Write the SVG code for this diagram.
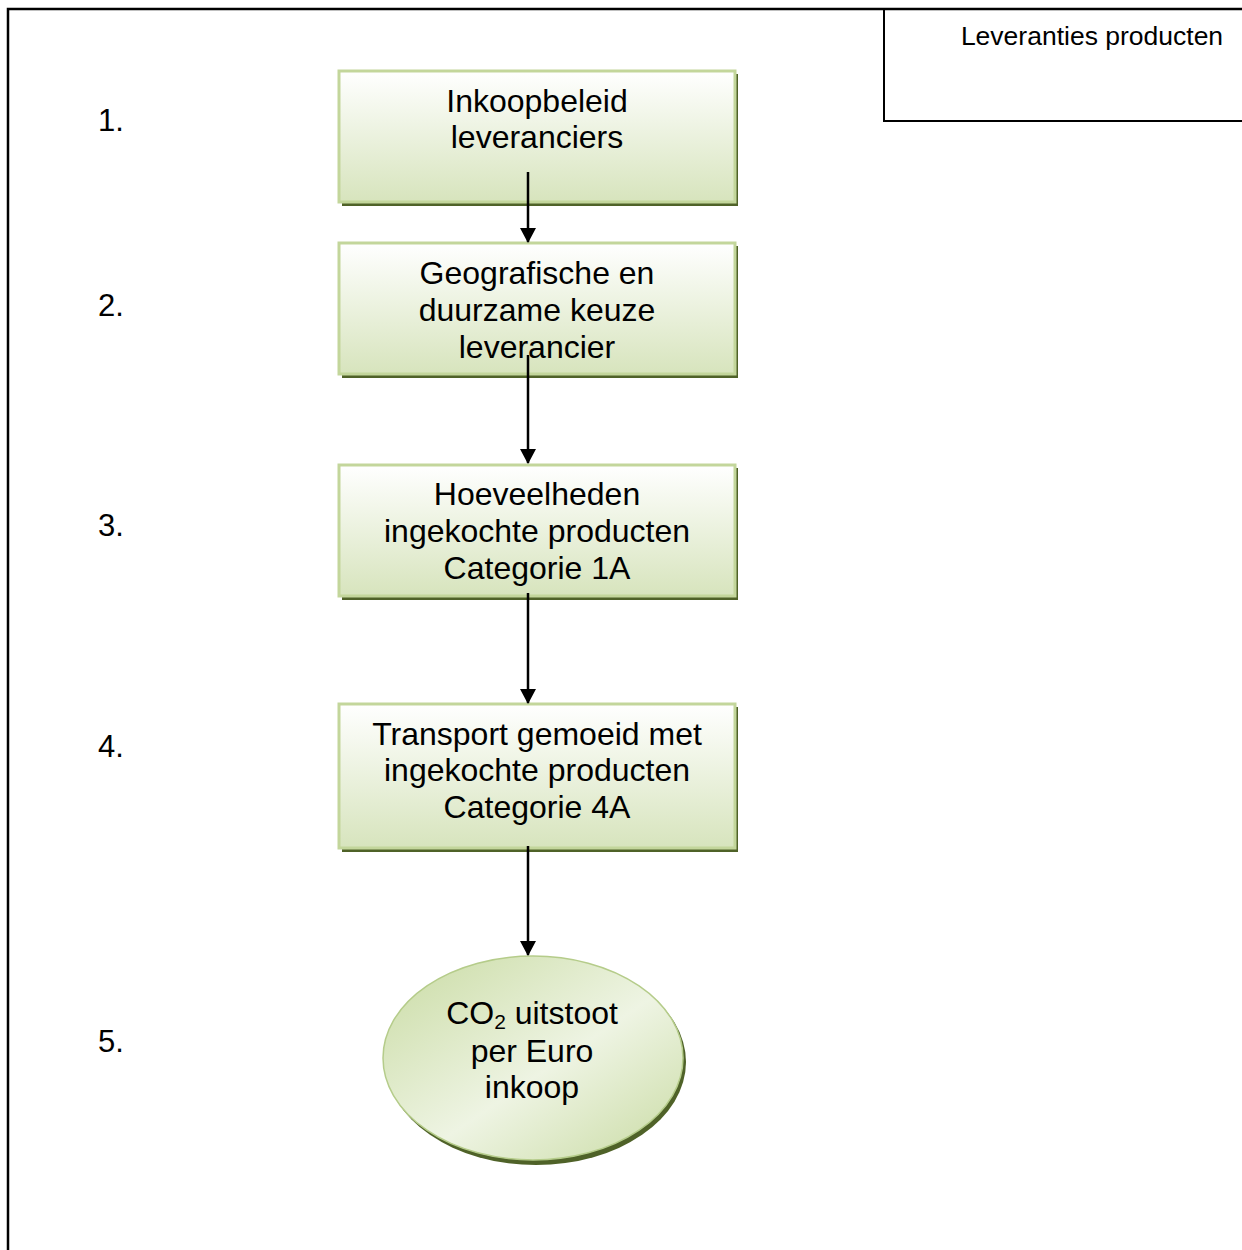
<svg xmlns="http://www.w3.org/2000/svg" width="1242" height="1250" viewBox="0 0 1242 1250">
<defs>
<linearGradient id="gbox" x1="0" y1="0" x2="0" y2="1">
<stop offset="0" stop-color="#ffffff"/>
<stop offset="1" stop-color="#d7e4bd"/>
</linearGradient>
<linearGradient id="gell" x1="0" y1="0" x2="1" y2="1">
<stop offset="0" stop-color="#c9dba3"/>
<stop offset="0.55" stop-color="#eef4e3"/>
<stop offset="1" stop-color="#c9dba3"/>
</linearGradient>
<marker id="arr" markerWidth="15" markerHeight="16" refX="14" refY="8" orient="auto" markerUnits="userSpaceOnUse" viewBox="0 0 15 16">
<path d="M0,0 L15,8 L0,16 Z" fill="#000"/>
</marker>
<style>
.t{font-family:"Liberation Sans",Arial,sans-serif;font-size:32px;fill:#000;text-anchor:middle}
.n{font-family:"Liberation Sans",Arial,sans-serif;font-size:31px;fill:#000}
.box{fill:url(#gbox);stroke:#c3d69b;stroke-width:3}
.sh{fill:#4f6228}
.con{stroke:#000;stroke-width:2.5;fill:none;marker-end:url(#arr)}
</style>
</defs>
<rect width="1242" height="1250" fill="#fff"/>
<g id="frame">
<path d="M8,1250 V9 H1242" fill="none" stroke="#000" stroke-width="2.5"/>
<path d="M884,9 V121 H1242" fill="none" stroke="#000" stroke-width="2"/>
<text x="1092" y="45" class="t" style="font-size:26.5px">Leveranties producten</text>
</g>
<g id="numbers">
<text x="98" y="131" class="n">1.</text>
<text x="98" y="316" class="n">2.</text>
<text x="98" y="536" class="n">3.</text>
<text x="98" y="757" class="n">4.</text>
<text x="98" y="1052" class="n">5.</text>
</g>
<g id="node1">
<rect x="342" y="74" width="396" height="132" class="sh"/>
<rect x="339" y="71" width="396" height="131" class="box"/>
<text x="537" y="112" class="t">Inkoopbeleid</text>
<text x="537" y="148" class="t">leveranciers</text>
</g>
<g id="node2">
<rect x="342" y="246" width="396" height="132" class="sh"/>
<rect x="339" y="243" width="396" height="131" class="box"/>
<text x="537" y="284" class="t">Geografische en</text>
<text x="537" y="321" class="t">duurzame keuze</text>
<text x="537" y="358" class="t">leverancier</text>
</g>
<g id="node3">
<rect x="342" y="468" width="396" height="132" class="sh"/>
<rect x="339" y="465" width="396" height="131" class="box"/>
<text x="537" y="505" class="t">Hoeveelheden</text>
<text x="537" y="542" class="t">ingekochte producten</text>
<text x="537" y="579" class="t">Categorie 1A</text>
</g>
<g id="node4">
<rect x="342" y="707" width="396" height="145" class="sh"/>
<rect x="339" y="704" width="396" height="144" class="box"/>
<text x="537" y="745" class="t">Transport gemoeid met</text>
<text x="537" y="781" class="t">ingekochte producten</text>
<text x="537" y="818" class="t">Categorie 4A</text>
</g>
<g id="node5">
<ellipse cx="536" cy="1062" rx="150" ry="103" fill="#4f6228"/>
<ellipse cx="533" cy="1058" rx="150" ry="102" fill="url(#gell)" stroke="#b5cc8a" stroke-width="1.5"/>
<text x="532" y="1024" class="t">CO<tspan font-size="21" dy="5">2</tspan><tspan dy="-5"> uitstoot</tspan></text>
<text x="532" y="1062" class="t">per Euro</text>
<text x="532" y="1098" class="t">inkoop</text>
</g>
<g id="connectors">
<line x1="528" y1="172" x2="528" y2="242" class="con"/>
<line x1="528" y1="355" x2="528" y2="463" class="con"/>
<line x1="528" y1="593" x2="528" y2="703" class="con"/>
<line x1="528" y1="846" x2="528" y2="955" class="con"/>
</g>
</svg>
